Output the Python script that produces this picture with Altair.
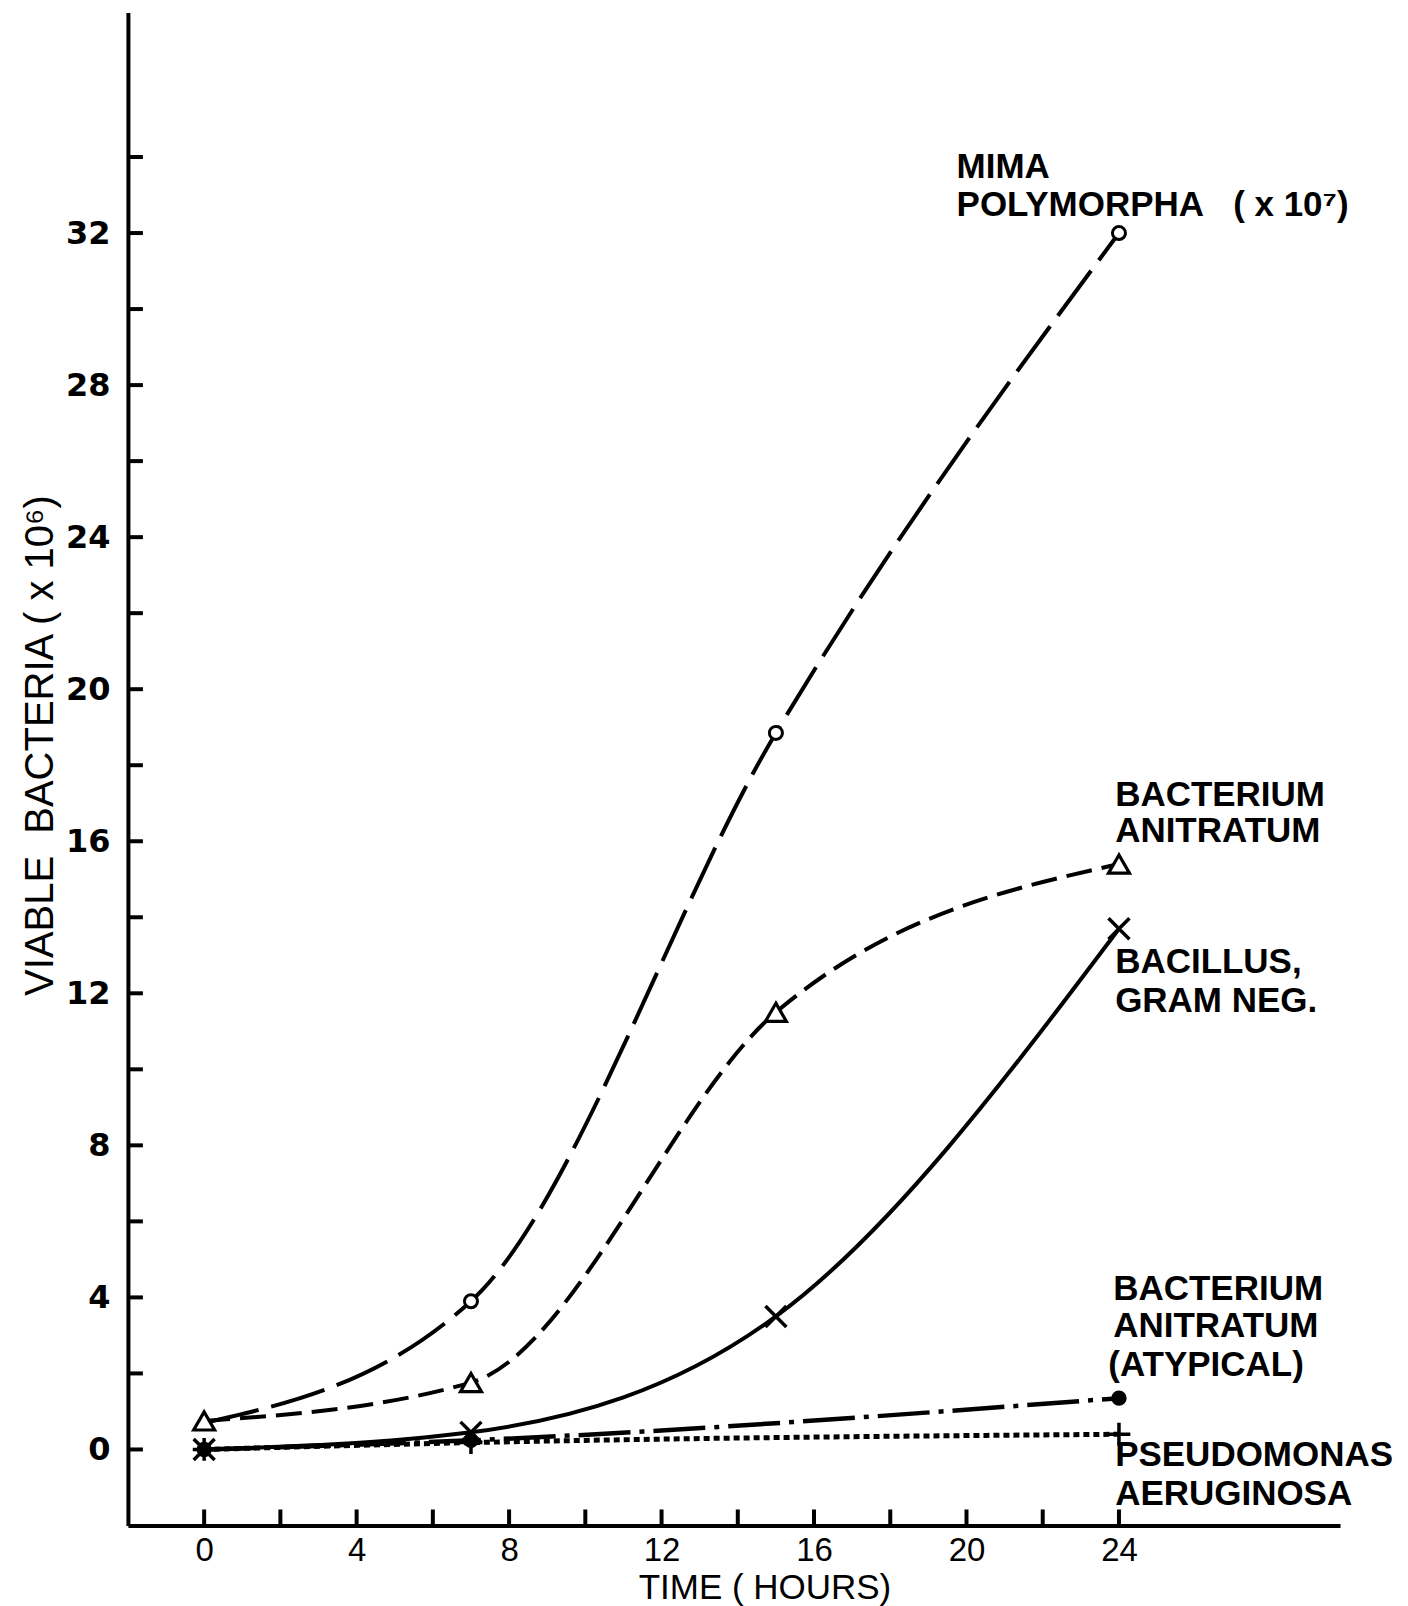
import altair as alt
import pandas as pd

# ---- data ----
hours = [0, 7, 15, 24]
mima = [0.7, 3.9, 18.85, 32.0]
anitratum = [0.75, 1.76, 11.5, 15.4]
bacillus = [0.0, 0.45, 3.5, 13.7]
atyp_hours = [0, 7, 24]
atypical = [0.0, 0.24, 1.35]
pseudo_hours = [0, 7, 24]
pseudomonas = [0.0, 0.18, 0.4]

x_tick_values = list(range(0, 25, 2))
y_tick_values = list(range(0, 35, 2))
x_label_values = list(range(0, 25, 4))
y_label_values = list(range(0, 33, 4))

NB = "\u00a0"
label_text = ["MIMA", "POLYMORPHA" + NB + NB + " ( x 10\u2077)", "BACTERIUM", "ANITRATUM",
              "BACILLUS,", "GRAM NEG.", "BACTERIUM", "ANITRATUM", "(ATYPICAL)",
              "PSEUDOMONAS", "AERUGINOSA"]
label_x = [19.74, 19.74, 23.9, 23.9, 23.9, 23.9, 23.85, 23.85, 23.72, 23.9, 23.9]
label_y = [33.46, 32.44, 16.93, 15.98, 12.54, 11.51, 3.94, 2.97, 1.92, -0.44, -1.47]

W, H = 1213, 1514

xs = alt.Scale(domain=[-2, 29.8], nice=False, zero=False)
ys = alt.Scale(domain=[-2, 37.8], nice=False, zero=False)

x_axis = alt.Axis(values=x_label_values, ticks=False, grid=False, domainColor="black",
                  domainWidth=4, labelFont="Liberation Sans", labelFontSize=33,
                  labelColor="black", labelPadding=9, title="TIME ( HOURS)",
                  titleFont="Liberation Sans", titleFontSize=35, titleFontWeight="normal",
                  titleColor="black", titleX=637, titleY=73, titleBaseline="alphabetic",
                  titleAlign="center")
y_axis = alt.Axis(values=y_label_values, ticks=False, grid=False, domainColor="black",
                  domainWidth=4, labelFont="DejaVu Sans", labelFontWeight="bold",
                  labelFontSize=32, labelColor="black", labelPadding=18,
                  title="VIABLE" + NB + NB + "BACTERIA ( x 10\u2076)", titleFont="Liberation Sans",
                  titleFontSize=40, titleFontWeight="normal", titleColor="black",
                  titleAngle=270, titleX=-87, titleY=733, titleBaseline="middle",
                  titleAlign="center")


def X(field):
    return alt.X(field, type="quantitative", scale=xs, axis=x_axis)


def Y(field):
    return alt.Y(field, type="quantitative", scale=ys, axis=y_axis)


def series_df(t, v):
    return pd.DataFrame({"t": t, "v": v})


layers = []

# inward tick marks
yt = alt.Chart(pd.DataFrame({"v": y_tick_values})).mark_rule(
    color="black", strokeWidth=4).encode(y=Y("v"), x=alt.value(0), x2=alt.value(15))
xt = alt.Chart(pd.DataFrame({"t": x_tick_values})).mark_rule(
    color="black", strokeWidth=4).encode(x=X("t"), y=alt.value(H - 16), y2=alt.value(H))
layers += [yt, xt]

series = [
    (hours, mima, [56, 13], 4),
    (hours, anitratum, [26, 10], 4),
    (hours, bacillus, None, 4),
    (atyp_hours, atypical, [52, 9, 5, 9], 4.5),
    (pseudo_hours, pseudomonas, [6, 4], 5),
]
for t, v, dash, sw in series:
    kw = dict(interpolate="monotone", color="black", strokeWidth=sw)
    if dash:
        kw["strokeDash"] = dash
    layers.append(alt.Chart(series_df(t, v)).mark_line(**kw).encode(x=X("t"), y=Y("v")))

X_PATH = "M-1,-1L1,1M-1,1L1,-1"
PLUS_PATH = "M-1,0L1,0M0,-1L0,1"

layers.append(alt.Chart(series_df(pseudo_hours, pseudomonas)).mark_point(
    shape=PLUS_PATH, size=520, stroke="black", strokeWidth=3.5, filled=False, opacity=1
).encode(x=X("t"), y=Y("v")))
layers.append(alt.Chart(series_df(atyp_hours, atypical)).mark_point(
    shape="circle", size=180, fill="black", stroke="black", filled=True, opacity=1
).encode(x=X("t"), y=Y("v")))
layers.append(alt.Chart(series_df(hours, bacillus)).mark_point(
    shape=X_PATH, size=440, stroke="black", strokeWidth=3.5, filled=False, opacity=1
).encode(x=X("t"), y=Y("v")))
layers.append(alt.Chart(series_df(hours, anitratum)).mark_point(
    shape="triangle-up", size=440, stroke="black", strokeWidth=3.2, fill="white",
    fillOpacity=1, opacity=1
).encode(x=X("t"), y=Y("v")))
layers.append(alt.Chart(series_df(hours[1:], mima[1:])).mark_point(
    shape="circle", size=170, stroke="black", strokeWidth=3, fill="white",
    fillOpacity=1, opacity=1
).encode(x=X("t"), y=Y("v")))

labels = pd.DataFrame({"text": label_text, "t": label_x, "v": label_y})
layers.append(alt.Chart(labels).mark_text(
    align="left", baseline="alphabetic", font="Liberation Sans", fontSize=35,
    fontWeight="bold", color="black"
).encode(x=X("t"), y=Y("v"), text="text:N"))

chart = alt.layer(*layers).properties(
    width=W, height=H,
    padding={"left": 120, "top": 4, "right": 60, "bottom": 80},
    autosize=alt.AutoSizeParams(type="none"),
    background="white",
).configure_view(stroke=None)

chart.save("out.html", embed_options={"renderer": "svg", "actions": False})
